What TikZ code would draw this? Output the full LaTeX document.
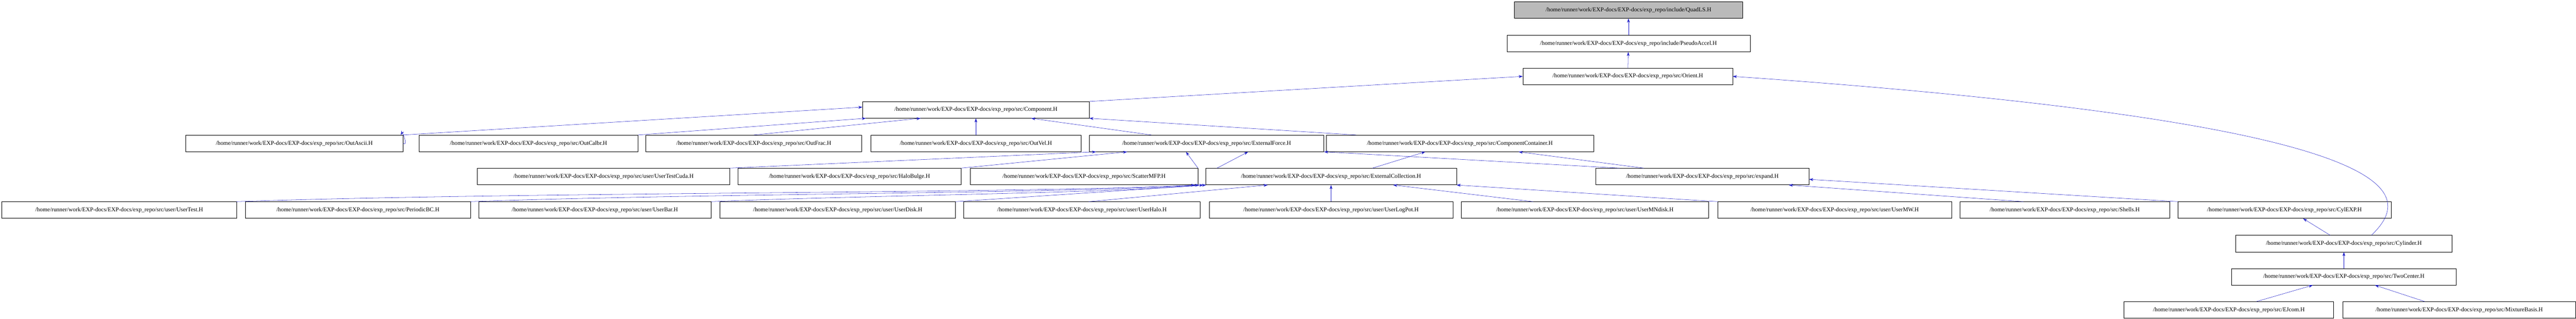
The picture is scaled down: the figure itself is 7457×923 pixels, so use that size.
\documentclass[tikz,border=0pt]{standalone}
\usepackage{fontspec}
\setmainfont{Liberation Serif}
\usetikzlibrary{arrows.meta}
\definecolor{edgeblue}{RGB}{30,30,200}
\tikzset{
  file/.style={draw, thick, rectangle, minimum height=48pt, inner xsep=3pt,
    font=\fontsize{17}{17}\selectfont},
  root/.style={file, fill=black!27},
  incl/.style={edgeblue, thick, -{Stealth[length=12pt,width=8pt]}}
}
\newcommand{\pth}{/home/runner/work/EXP-docs/EXP-docs/exp\_repo/}
\begin{document}
\begin{tikzpicture}[x=1pt, y=-1pt]
\useasboundingbox (0,0) rectangle (7457,923);
% upper chain
\node[root, minimum width=660pt] (quad) at (4714,29) {\pth include/QuadLS.H};
\node[file, minimum width=704pt] (pseudo) at (4714,126) {\pth include/PseudoAccel.H};
\node[file, minimum width=607pt] (orient) at (4712,221) {\pth src/Orient.H};
\node[file, minimum width=656pt] (comp) at (2825,318) {\pth src/Component.H};
% outputs and forces
\node[file, minimum width=628pt] (ascii) at (852,415) {\pth src/OutAscii.H};
\node[file, minimum width=633pt] (calbr) at (1530,415) {\pth src/OutCalbr.H};
\node[file, minimum width=625pt] (frac) at (2182,415) {\pth src/OutFrac.H};
\node[file, minimum width=609pt] (vel) at (2825,415) {\pth src/OutVel.H};
\node[file, minimum width=679pt] (extf) at (3493,415) {\pth src/ExternalForce.H};
\node[file, minimum width=773pt] (cont) at (4226,415) {\pth src/ComponentContainer.H};
\node[file, minimum width=731pt] (cuda) at (1747,511) {\pth src/user/UserTestCuda.H};
\node[file, minimum width=646pt] (bulge) at (2459,511) {\pth src/HaloBulge.H};
\node[file, minimum width=659pt] (mfp) at (3138,511) {\pth src/ScatterMFP.H};
\node[file, minimum width=726pt] (coll) at (3853,511) {\pth src/ExternalCollection.H};
\node[file, minimum width=617pt] (expand) at (4928,511) {\pth src/expand.H};
% user modules
\node[file, minimum width=679pt] (utest) at (345,608) {\pth src/user/UserTest.H};
\node[file, minimum width=652pt] (pbc) at (1036,608) {\pth src/PeriodicBC.H};
\node[file, minimum width=673pt] (ubar) at (1722,608) {\pth src/user/UserBar.H};
\node[file, minimum width=682pt] (udisk) at (2425,608) {\pth src/user/UserDisk.H};
\node[file, minimum width=684pt] (uhalo) at (3132,608) {\pth src/user/UserHalo.H};
\node[file, minimum width=706pt] (ulog) at (3853,608) {\pth src/user/UserLogPot.H};
\node[file, minimum width=716pt] (umn) at (4588,608) {\pth src/user/UserMNdisk.H};
\node[file, minimum width=677pt] (umw) at (5311,608) {\pth src/user/UserMW.H};
\node[file, minimum width=607pt] (shells) at (5977,608) {\pth src/Shells.H};
\node[file, minimum width=617pt] (cylexp) at (6613,608) {\pth src/CylEXP.H};
% lower chain
\node[file, minimum width=626pt] (cyl) at (6785,705) {\pth src/Cylinder.H};
\node[file, minimum width=650pt] (two) at (6785,801) {\pth src/TwoCenter.H};
\node[file, minimum width=607pt] (ejcom) at (6452,897) {\pth src/EJcom.H};
\node[file, minimum width=674pt] (mix) at (7119,897) {\pth src/MixtureBasis.H};
% edges
\draw[incl] (pseudo) -- (quad);
\draw[incl] (orient) -- (pseudo);
\draw[incl] (comp.north east) -- (orient.west);
\draw[incl] ([xshift=80pt]cyl.north) .. controls (6990,560) and (7010,360) .. (orient.east);
\draw[incl] (ascii.north east) -- ([yshift=8pt]comp.west);
\draw[incl] ([xshift=0.9pt]ascii.east) .. controls +(15pt,-10pt) and +(5pt,10pt) .. ([xshift=-6pt]ascii.north east);
\draw[incl] (calbr.north east) -- ([xshift=10pt]comp.south west);
\draw[incl] (frac.north) -- ([xshift=-160pt]comp.south);
\draw[incl] (vel) -- (comp);
\draw[incl] ([xshift=-160pt]extf.north) -- ([xshift=160pt]comp.south);
\draw[incl] ([xshift=-300pt]cont.north) -- (comp.south east);
\draw[incl] (cuda.north east) -- ([xshift=-320pt]extf.south);
\draw[incl] (bulge.north east) -- ([xshift=-230pt]extf.south);
\draw[incl] (mfp.north east) -- ([xshift=-60pt]extf.south);
\draw[incl] ([xshift=-330pt]coll.north) -- ([xshift=120pt]extf.south);
\draw[incl] ([xshift=-240pt]expand.north) -- (extf.south east);
\draw[incl] ([xshift=120pt]coll.north) -- ([xshift=-100pt]cont.south);
\draw[incl] ([xshift=-170pt]expand.north) -- ([xshift=170pt]cont.south);
\draw[incl] (utest.north east) .. controls (1500,555) and (3000,560) .. ([xshift=-30pt]coll.south west);
\draw[incl] (pbc.north east) .. controls (2000,560) and (3100,560) .. ([xshift=-18pt]coll.south west);
\draw[incl] (ubar.north east) .. controls (2500,565) and (3200,560) .. ([xshift=-6pt]coll.south west);
\draw[incl] (udisk.north east) -- ([xshift=2pt]coll.south west);
\draw[incl] ([xshift=20pt]uhalo.north) -- ([xshift=180pt]coll.south west);
\draw[incl] (ulog) -- (coll);
\draw[incl] ([xshift=-150pt]umn.north) -- ([xshift=180pt]coll.south);
\draw[incl] (umw.north west) -- (coll.south east);
\draw[incl] ([xshift=-120pt]shells.north) -- ([xshift=250pt]expand.south);
\draw[incl] (cylexp.north west) -- ([yshift=-8pt]expand.east);
\draw[incl] ([xshift=-40pt]cyl.north) -- ([xshift=54pt]cylexp.south);
\draw[incl] (two) -- (cyl);
\draw[incl] ([xshift=80pt]ejcom.north) -- ([xshift=-90pt]two.south);
\draw[incl] ([xshift=-100pt]mix.north) -- ([xshift=90pt]two.south);
\end{tikzpicture}
\end{document}
